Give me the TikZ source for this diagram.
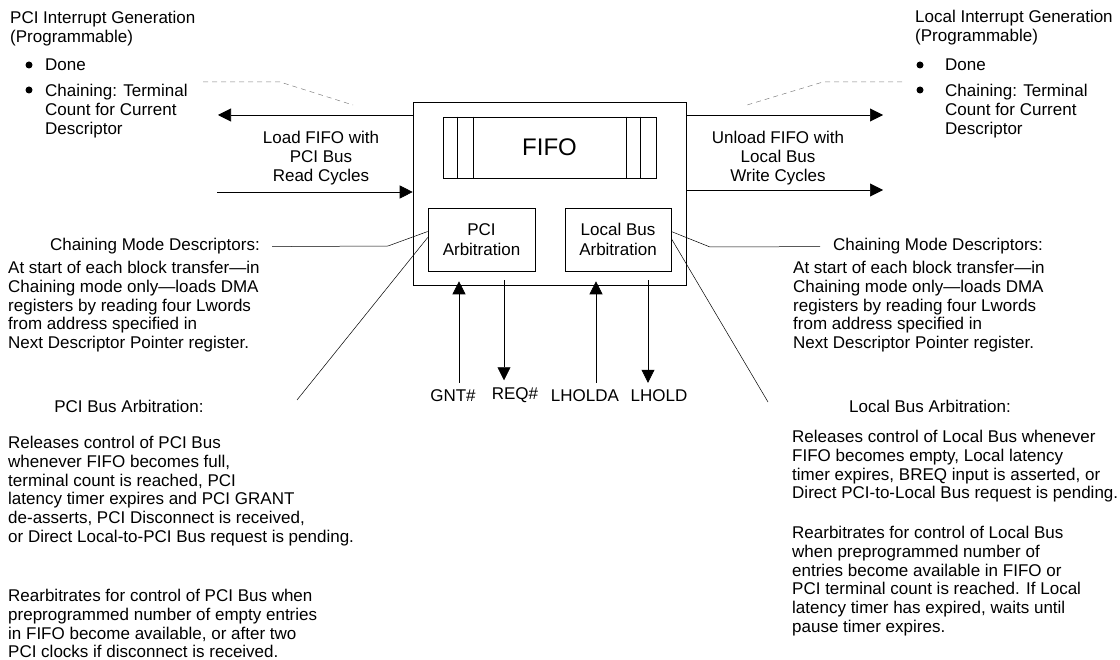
\documentclass[tikz,border=0pt]{standalone}
\usepackage{fontspec}
\setmainfont{Liberation Sans}
\usetikzlibrary{arrows.meta,calc}
\tikzset{
 box/.style={draw,line width=0.6pt,inner sep=0pt},
 txt/.style={inner sep=0pt,align=left,anchor=north west},
 ctxt/.style={inner sep=0pt,align=center,anchor=north},
 sig/.style={inner sep=7pt},
 arr/.style={line width=0.6pt,-{Triangle[length=13pt,width=13pt]}},
 ptr/.style={line width=0.5pt},
 dsh/.style={line width=0.5pt,gray,dash pattern=on 5pt off 4pt}
}
\begin{document}
\begin{tikzpicture}[x=1pt,y=-1pt,font=\fontsize{17}{18.8}\selectfont]
\useasboundingbox (0,0) rectangle (1120,660);
% dma block
\node[box,minimum width=273pt,minimum height=183pt] (main) at (549.5,193.5) {};
\node[box,minimum width=213pt,minimum height=61pt,font=\fontsize{24}{24}\selectfont] (fifo) at (549.5,147.5) {FIFO};
\path[draw,line width=0.6pt] ($(fifo.north west)+(15,0)$) -- ($(fifo.south west)+(15,0)$);
\path[draw,line width=0.6pt] ($(fifo.north west)+(31,0)$) -- ($(fifo.south west)+(31,0)$);
\path[draw,line width=0.6pt] ($(fifo.north east)+(-16,0)$) -- ($(fifo.south east)+(-16,0)$);
\path[draw,line width=0.6pt] ($(fifo.north east)+(-30,0)$) -- ($(fifo.south east)+(-30,0)$);
\node[box,minimum width=107pt,minimum height=63pt,align=center,font=\fontsize{17}{20.5}\selectfont] (pci) at (481.5,239.5) {PCI\\Arbitration};
\node[box,minimum width=106pt,minimum height=63pt,align=center,font=\fontsize{17}{20.5}\selectfont] (loc) at (618,239.5) {Local Bus\\Arbitration};
% interrupt texts
\node[txt] (pcig) at (10,11) {PCI Interrupt Generation\\(Programmable)};
\node[txt] (pdone) at (45,59) {Done};
\node[txt] (pchain) at (45,84) {Chaining: Terminal\\Count for Current\\Descriptor};
\fill (29,65) circle (3.5);
\fill (29,90) circle (3.5);
\node[txt] (locg) at (915,10) {Local Interrupt Generation\\(Programmable)};
\node[txt] (ldone) at (945,59) {Done};
\node[txt] (lchain) at (945,84) {Chaining: Terminal\\Count for Current\\Descriptor};
\fill (920,65) circle (3.5);
\fill (920,90) circle (3.5);
\coordinate (ldsa) at (203,82);
\coordinate (ldsb) at (280,82);
\coordinate (ldsc) at (353,105);
\coordinate (rdsa) at (902,82);
\coordinate (rdsb) at (823,82);
\coordinate (rdsc) at (747,105);
\path[draw,dsh] (ldsa) -- (ldsb) -- (ldsc);
\path[draw,dsh] (rdsa) -- (rdsb) -- (rdsc);
% data paths
\node[ctxt] (load) at (321,131) {Load FIFO with\\PCI Bus\\Read Cycles};
\node[ctxt] (unload) at (778,131) {Unload FIFO with\\Local Bus\\Write Cycles};
\coordinate (pout) at (218,115);
\coordinate (pin) at (217,192);
\coordinate (lout) at (883,115);
\coordinate (lwr) at (883,190);
\path[draw,arr] (main.west |- pout) -- (pout);
\path[draw,arr] (pin) -- (pin -| main.west);
\path[draw,arr] (main.east |- lout) -- (lout);
\path[draw,arr] (main.east |- lwr) -- (lwr);
% chaining descriptors
\node[inner sep=0pt,anchor=base east] (lcmd) at (260,251) {Chaining Mode Descriptors:};
\node[inner sep=0pt,anchor=base west] (rcmd) at (833,251) {Chaining Mode Descriptors:};
\coordinate (lbend) at (388,246);
\coordinate (rbend) at (710,247);
\path[draw,ptr] ([xshift=12pt]lcmd.east) -- (lbend) -- ($(pci.west)+(0,-8)$);
\path[draw,ptr] ($(loc.east)+(0,-8)$) -- (rbend) -- ([xshift=-13pt]rcmd.west);
\node[txt] (lcmdp) at (8,261) {At start of each block transfer---in\\Chaining mode only---loads DMA\\registers by reading four Lwords\\from address specified in\\Next Descriptor Pointer register.};
\node[txt] (rcmdp) at (793,261) {At start of each block transfer---in\\Chaining mode only---loads DMA\\registers by reading four Lwords\\from address specified in\\Next Descriptor Pointer register.};
% arbitration
\coordinate (lptr) at (297,400);
\coordinate (rptr) at (768,402);
\path[draw,ptr] ($(pci.west)+(0,-2)$) -- (lptr);
\path[draw,ptr] ($(loc.east)+(0,-1)$) -- (rptr);
\node[inner sep=0pt,anchor=base] (pba) at (129,413) {PCI Bus Arbitration:};
\node[inner sep=0pt,anchor=base] (lba) at (930,413) {Local Bus Arbitration:};
\node[txt] (pbar) at (8,436) {Releases control of PCI Bus\\whenever FIFO becomes full,\\terminal count is reached, PCI\\latency timer expires and PCI GRANT\\de-asserts, PCI Disconnect is received,\\or Direct Local-to-PCI Bus request is pending.};
\node[txt] (pbrb) at (8,589) {Rearbitrates for control of PCI Bus when\\preprogrammed number of empty entries\\in FIFO become available, or after two\\PCI clocks if disconnect is received.};
\node[txt] (lbar) at (792,430) {Releases control of Local Bus whenever\\FIFO becomes empty, Local latency\\timer expires, BREQ input is asserted, or\\Direct PCI-to-Local Bus request is pending.};
\node[txt] (lbrb) at (792,526) {Rearbitrates for control of Local Bus\\when preprogrammed number of\\entries become available in FIFO or\\PCI terminal count is reached. If Local\\latency timer has expired, waits until\\pause timer expires.};
% signals
\node[sig] (gnt) at (453,396) {GNT\#};
\node[sig] (req) at (515,395) {REQ\#};
\node[sig] (lha) at (585,396) {LHOLDA};
\node[sig] (lho) at (659,396) {LHOLD};
\path[draw,arr] ([xshift=6pt]gnt.north) -- ([xshift=6pt,yshift=4pt]gnt.north |- main.south);
\path[draw,arr] ([xshift=-11pt,yshift=5pt]req.north |- main.south) -- ([xshift=-11pt]req.north);
\path[draw,arr] ([xshift=11pt]lha.north) -- ([xshift=11pt,yshift=4pt]lha.north |- main.south);
\path[draw,arr] ([xshift=-11pt,yshift=5pt]lho.north |- main.south) -- ([xshift=-11pt]lho.north);
\end{tikzpicture}
\end{document}
